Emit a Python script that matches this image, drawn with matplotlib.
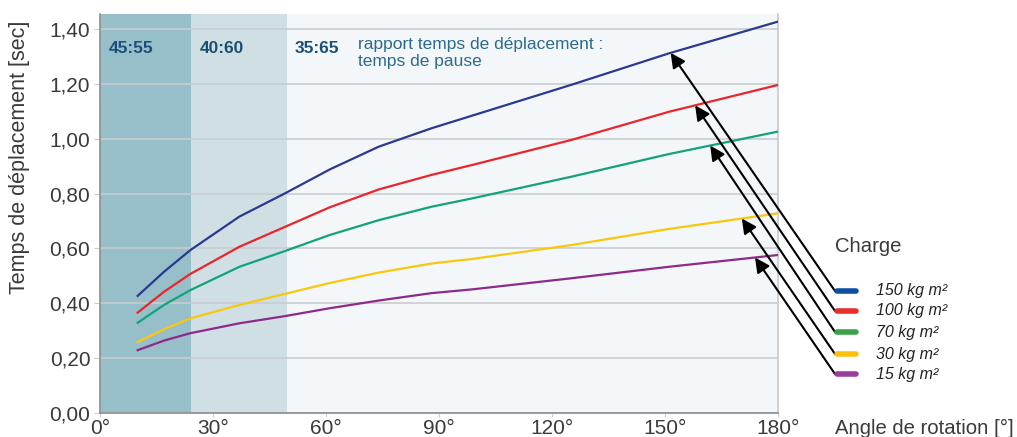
import numpy as np
import matplotlib
matplotlib.use("Agg")
from matplotlib import pyplot as plt
from matplotlib.lines import Line2D

plt.rcParams['font.family'] = ['Liberation Sans', 'DejaVu Sans']

# values
angles = [10, 17, 24, 37, 49, 61, 74, 88, 99, 125, 151, 180]
t150 = [0.427, 0.515, 0.594, 0.716, 0.800, 0.888, 0.971, 1.038, 1.085, 1.196, 1.311, 1.427]
t100 = [0.366, 0.442, 0.507, 0.606, 0.678, 0.750, 0.815, 0.868, 0.905, 0.995, 1.098, 1.196]
t70 = [0.329, 0.394, 0.448, 0.533, 0.590, 0.649, 0.703, 0.752, 0.783, 0.861, 0.944, 1.026]
t30 = [0.259, 0.305, 0.345, 0.394, 0.434, 0.474, 0.512, 0.545, 0.562, 0.612, 0.671, 0.728]
t15 = [0.229, 0.264, 0.291, 0.327, 0.353, 0.382, 0.410, 0.437, 0.451, 0.491, 0.533, 0.576]

series = [t150, t100, t70, t30, t15]
labels = ['150 kg m²', '100 kg m²', '70 kg m²', '30 kg m²', '15 kg m²']
line_colors = ['#2b3990', '#e8262c', '#12a37c', '#f9c80e', '#8e2a8a']
swatch_colors = ['#0d4fa0', '#e8302a', '#3aa348', '#fbbf0e', '#9b3d9b']
arrow_angles = [151.5, 158, 162, 170.4, 173.9]

zones = [(0, 24.2, '#97bfc9', '45:55'), (24.2, 49.6, '#cfdfe4', '40:60'),
         (49.6, 180, '#f3f7f9', '35:65')]

W, H = 1017, 437
fig = plt.figure(figsize=(W / 100, H / 100), dpi=100)
ax = fig.add_axes([100 / W, 1 - 413 / H, 678 / W, 399 / H])
ax.set_xlim(0, 180)
ax.set_ylim(0, 1.4547)

for x0, x1, c, txt in zones:
    ax.axvspan(x0, x1, color=c, zorder=0, lw=0)
    ax.text(x0 + 2.2, 1.33, txt, color='#1b4f78', fontsize=12.5,
            fontweight='bold', va='center', ha='left')
ax.text(68.5, 1.372, 'rapport temps de déplacement :\ntemps de pause',
        color='#2e6a8a', fontsize=12.5, va='top', ha='left', linespacing=1.2)

yt = np.arange(0, 1.41, 0.2)
ax.set_yticks(yt)
ax.set_yticklabels([('%.2f' % v).replace('.', ',') for v in yt])
ax.set_xticks([0, 30, 60, 90, 120, 150, 180])
ax.set_xticklabels(['0°', '30°', '60°', '90°', '120°', '150°', '180°'])
ax.grid(axis='y', color='#c9cdcf', lw=1.2, zorder=1)
ax.tick_params(axis='y', length=4, color='#c9cdcf', labelsize=15,
               labelcolor='#3a3a3a', pad=3)
ax.tick_params(axis='x', length=3, color='#d0d0d0', labelsize=15,
               labelcolor='#3a3a3a', pad=1)
ax.set_axisbelow(True)
ax.spines['top'].set_visible(False)
ax.spines['left'].set_color('#8a8f92')
ax.spines['bottom'].set_color('#8a8f92')
ax.spines['right'].set_color('#c6cacc')
for sp in ax.spines.values():
    sp.set_linewidth(1.2)

for ys, c in zip(series, line_colors):
    ax.plot(angles, ys, color=c, lw=1.6, zorder=3)

fig.text(20 / W, 1 - 157 / H, 'Temps de déplacement [sec]', rotation=90,
         ha='center', va='center', fontsize=15.5, color='#3a3a3a')
fig.text(835 / W, 1 - 428 / H, 'Angle de rotation [°]', ha='left',
         va='center', fontsize=14.6, color='#3a3a3a')
fig.text(835 / W, 1 - 247 / H, 'Charge', ha='left', va='center',
         fontsize=14.6, color='#3a3a3a')

sw_y = [291, 311, 332, 354, 374]
for i, (ys, lab) in enumerate(zip(series, labels)):
    yy = 1 - sw_y[i] / H
    fig.add_artist(Line2D([837 / W, 856 / W], [yy, yy], color=swatch_colors[i],
                          lw=4, solid_capstyle='round'))
    fig.text(876 / W, yy, lab, ha='left', va='center', fontsize=11.5,
             style='italic', color='#222222')
    hy = np.interp(arrow_angles[i], angles, ys)
    ax.annotate('', xy=(arrow_angles[i], hy), xycoords='data',
                xytext=(835 / W, yy), textcoords='figure fraction',
                annotation_clip=False,
                arrowprops=dict(arrowstyle='-|>', mutation_scale=22,
                                lw=1.5, color='black', shrinkA=0, shrinkB=0),
                zorder=5)

fig.savefig('out.png', dpi=100)
